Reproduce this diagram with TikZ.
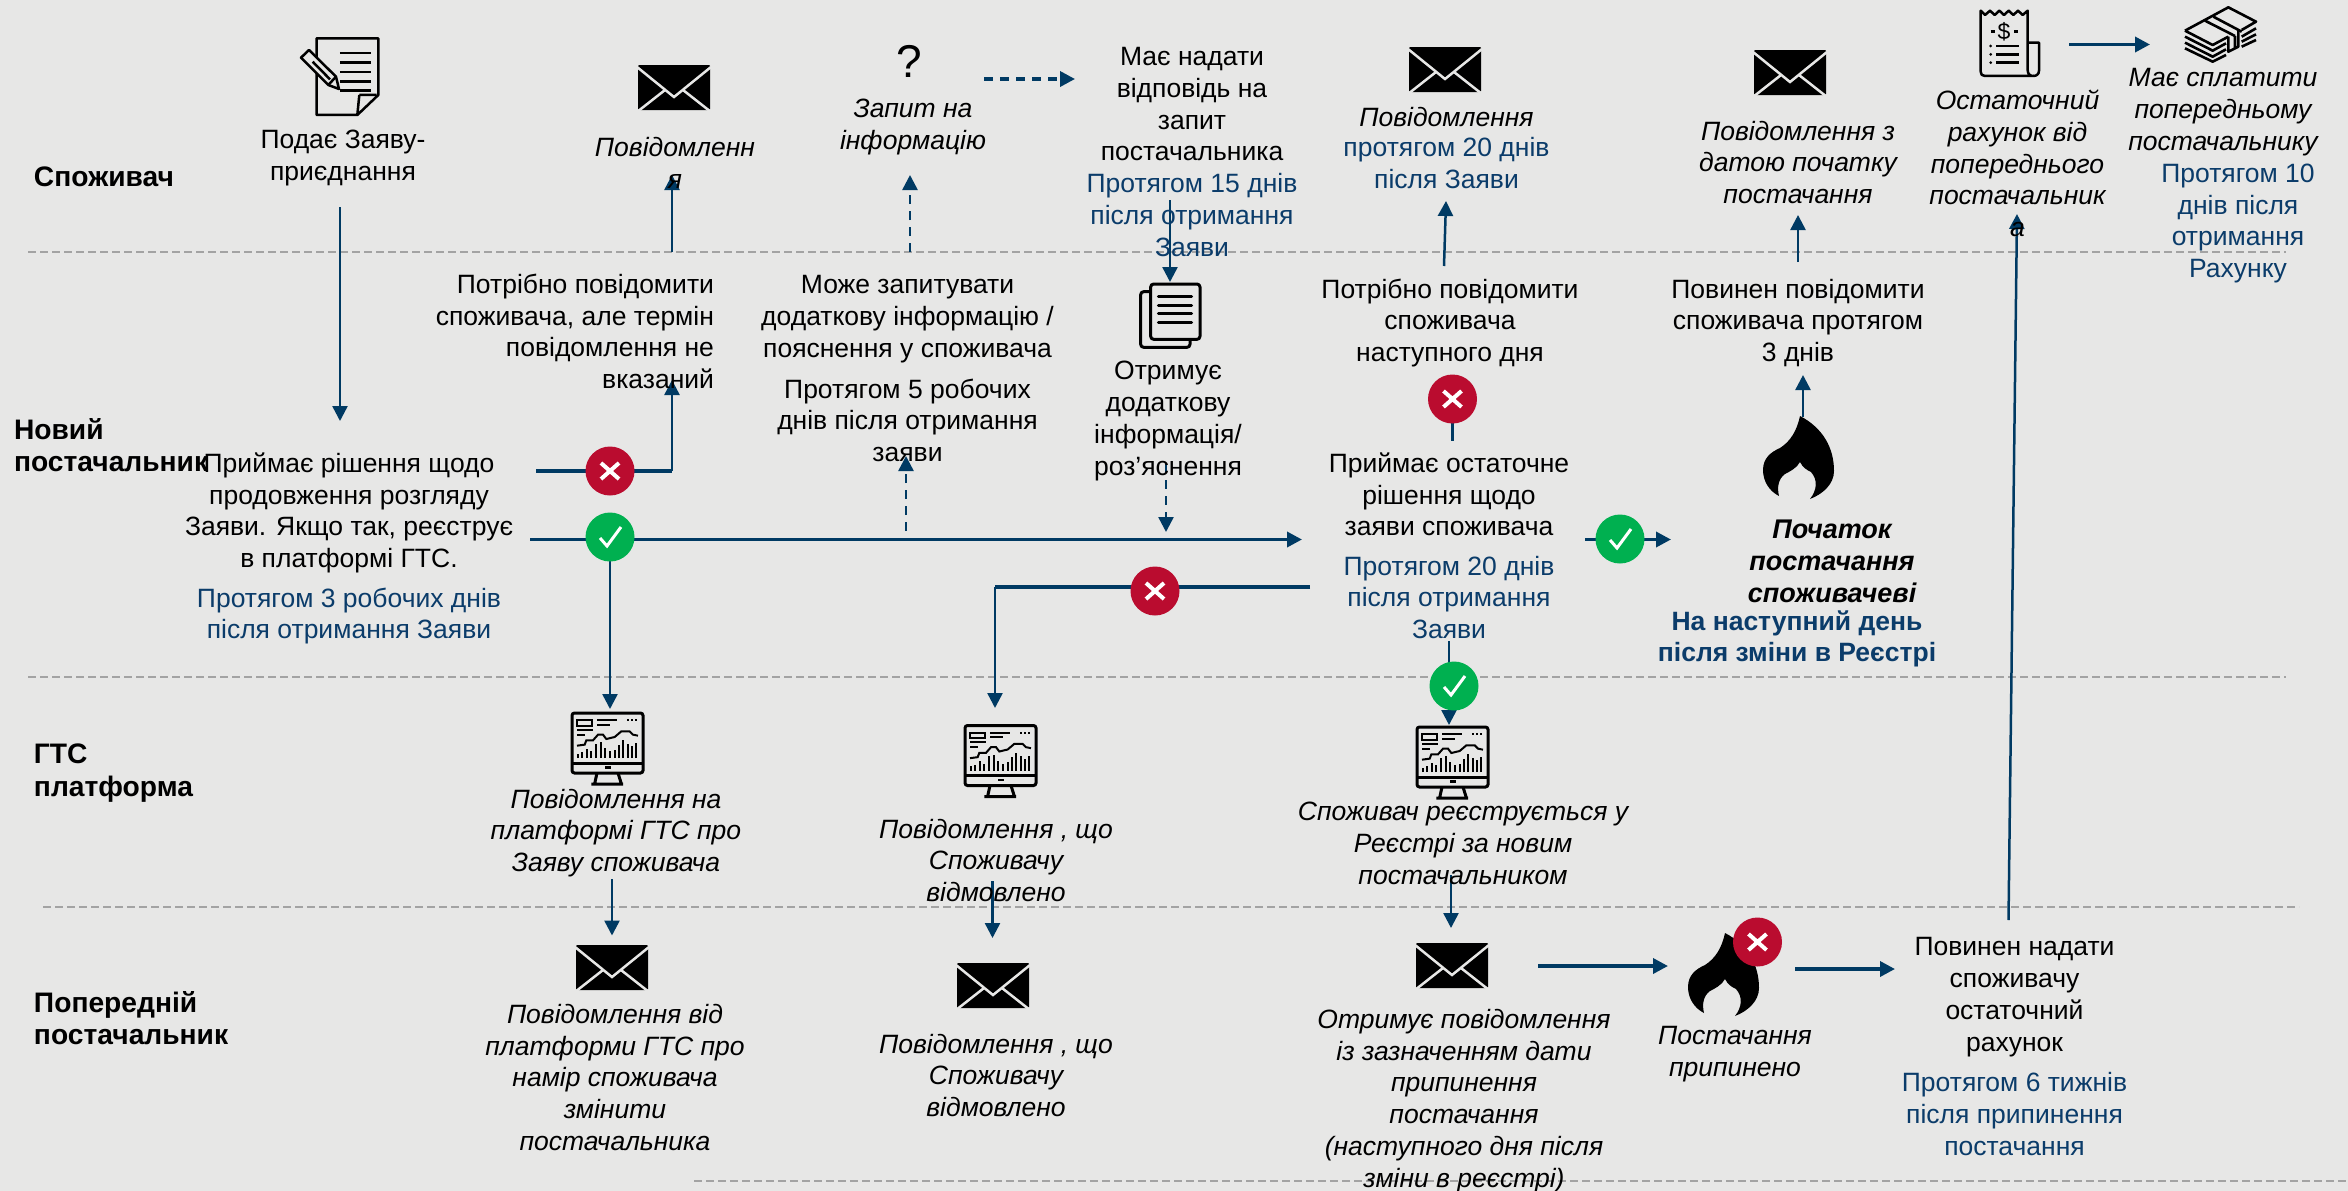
\documentclass[tikz,border=0pt]{standalone}
\usepackage{fontspec}
\setmainfont{Liberation Sans}
\usetikzlibrary{arrows.meta}
\definecolor{bgc}{HTML}{E7E7E6}
\definecolor{navy}{HTML}{003A63}
\definecolor{bluetxt}{HTML}{0B3C6A}
\definecolor{redc}{HTML}{BA0C2F}
\definecolor{greenc}{HTML}{00B050}
\definecolor{sep}{HTML}{A3A3A3}
\tikzset{
  x=1pt,y=-1pt,
  base/.style={inner sep=0pt,outer sep=0pt,yshift=-3pt,font=\fontsize{26.5}{31.8}\selectfont,align=center,
     execute at begin node=\strut,execute at end node=\strut},
  txt/.style={base},
  txti/.style={base,font=\fontsize{26.5}{31.8}\selectfont\itshape},
  txtb/.style={base,text=bluetxt},
  lane/.style={base,font=\fontsize{28.2}{32.5}\selectfont\bfseries,align=left,anchor=west},
  sepline/.style={sep,line width=2pt,dash pattern=on 8pt off 4pt},
  conn/.style={navy,line width=2.5pt,-{Triangle[length=15pt,width=15pt]}},
  conn thick/.style={navy,line width=3.5pt,-{Triangle[length=15pt,width=15pt]}},
  conn dash/.style={conn,dash pattern=on 9pt off 7pt},
  plain/.style={navy,line width=2.5pt},
  plain thick/.style={navy,line width=3.5pt},
  nomark/.style={circle,fill=redc,minimum size=49pt,inner sep=0pt,
    path picture={\draw[white,line width=4pt]
      ([shift={(-9,-8)}]path picture bounding box.center) -- ([shift={(9,8)}]path picture bounding box.center)
      ([shift={(9,-8)}]path picture bounding box.center) -- ([shift={(-9,8)}]path picture bounding box.center);}},
  okmark/.style={circle,fill=greenc,minimum size=49pt,inner sep=0pt,
    path picture={\draw[white,line width=3pt]
      ([shift={(-10,1)}]path picture bounding box.center) -- ([shift={(-3,9)}]path picture bounding box.center)
       -- ([shift={(11,-10)}]path picture bounding box.center);}},
  envelope/.pic={
    \fill[black,rounded corners=1pt] (0,0) -- (72,0) -- (72,45) -- (0,45) -- cycle;
    \draw[bgc,line width=2.5pt] (-1,2) -- (36,32) -- (73,2);
    \draw[bgc,line width=2.5pt] (-1,47) -- (27,25) (73,47) -- (45,25);
  },
  flame/.pic={
    \fill[black] (37,0) .. controls (60,12) and (71,32) .. (71,55) .. controls (71,68) and (60,78) .. (47,83)
     .. controls (54,74) and (55,64) .. (48,56) .. controls (44,54) and (40,52) .. (37,46)
     .. controls (34,52) and (26,56) .. (22,58) .. controls (15,63) and (14,72) .. (16,80)
     .. controls (6,75) and (0,65) .. (0,54) .. controls (0,42) and (8,36) .. (17,32)
     .. controls (28,25) and (34,14) .. (37,0) -- cycle;
  },
  monitor/.pic={
    \begin{scope}[x=.3333pt,y=-.3333pt,shift={(-97,-40)},black,line width=2pt]
    \draw[line width=3pt,rounded corners=2.5pt] (97,40) rectangle (310,220);
    \draw[line width=3pt] (97,190) -- (310,190);
    \fill (195,200) rectangle (213,207);
    \draw[line width=3pt] (172,220) -- (165,252) (235,220) -- (245,252) (155,253) -- (250,253);
    \draw (112,62) rectangle (158,78);
    \draw (172,62) -- (232,62) (172,75) -- (210,75) (112,90) -- (160,90) (112,105) -- (135,105);
    \draw[dotted,line width=2pt] (262,62) -- (292,62);
    \draw (112,138) -- (135,135) -- (140,122) -- (160,122) -- (175,105) -- (190,105) -- (200,118) -- (225,112) -- (245,95) -- (270,95) -- (280,105) -- (295,108);
    \draw[line width=2pt] (115,175) -- (115,162) (128,175) -- (128,157) (141,175) -- (141,147) (155,175) -- (155,155)
      (169,175) -- (169,132) (183,175) -- (183,128) (197,175) -- (197,145) (211,175) -- (211,155)
      (225,175) -- (225,150) (237,175) -- (237,135) (250,175) -- (250,122) (264,175) -- (264,132)
      (277,175) -- (277,140) (290,175) -- (290,130);
    \end{scope}
  },
  requestdoc/.pic={
    \begin{scope}[x=.3333pt,y=-.3333pt,black,line width=2.5pt,line join=round]
    \draw (110,55) -- (295,55) -- (295,225) -- (232,285) -- (110,285) -- cycle;
    \draw (238,225) -- (290,225) (238,225) -- (232,285);
    \draw[line width=2.5pt] (180,99) -- (272,99) (180,128) -- (272,128) (180,156) -- (272,156) (180,184) -- (272,184) (180,212) -- (272,212);
    \filldraw[fill=bgc] (87,90) -- (63,113) -- (145,195) -- (177,207) -- (168,170) -- cycle;
    \draw (98,125) -- (150,178);
    \draw (145,195) -- (168,170);
    \end{scope}
  },
  receipt/.pic={
    \begin{scope}[x=.3333pt,y=-.3333pt,black,line width=2.5pt,line join=round]
    \draw (62,215) -- (62,32) -- (75,45) -- (90,32) -- (104,45) -- (118,32) -- (132,45) -- (146,32) -- (160,45) -- (174,32) -- (188,45) -- (203,32)
      -- (203,210) .. controls (203,222) and (210,228) .. (220,228) -- (75,228) .. controls (66,228) and (62,223) .. (62,215);
    \draw (203,128) -- (237,128) -- (237,212) .. controls (237,222) and (230,228) .. (220,228);
    \node[inner sep=0pt,font=\fontsize{23}{24}\selectfont] (rcptsign) at (132,95) {\$};
    \draw (92,95) -- (104,95) (162,95) -- (175,95);
    \draw (108,138) -- (178,138) (108,163) -- (178,163) (108,188) -- (178,188);
    \fill (92,138) circle (1.5pt) (92,163) circle (1.5pt) (92,188) circle (1.5pt);
    \end{scope}
  },
  money/.pic={
    \begin{scope}[x=.3333pt,y=-.3333pt,black,line width=2.6pt,line join=round]
    \draw (45,92) -- (175,22) -- (258,65) -- (215,90);
    \draw (45,92) -- (128,135) -- (175,110);
    \draw (45,110) -- (128,152) -- (168,130) (45,128) -- (128,170) -- (168,148) (45,145) -- (128,185) -- (168,165);
    \draw (105,62) -- (195,108) (130,50) -- (215,95);
    \draw (175,110) -- (175,155) -- (205,140) -- (205,90) (195,108) -- (195,145);
    \draw (215,110) -- (258,85) (215,125) -- (258,103) (215,140) -- (258,120);
    \end{scope}
  },
  docs/.pic={
    \begin{scope}[x=.3333pt,y=-.3333pt,black,line width=3pt,line join=round]
    \draw[rounded corners=3pt] (92,65) -- (62,65) -- (62,232) -- (210,232) -- (210,208);
    \draw[rounded corners=3pt] (92,42) rectangle (240,208);
    \draw[line width=3pt,line cap=round] (115,80) -- (215,80) (115,106) -- (215,106) (115,132) -- (215,132) (115,158) -- (215,158);
    \end{scope}
  },
}
\begin{document}
\begin{tikzpicture}
\useasboundingbox (0,0) rectangle (2348,1191);
\fill[bgc] (0,0) rectangle (2348,1191);

% lane separators
\coordinate (s1a) at (28,252);   \coordinate (s1b) at (2286,252);
\coordinate (s2a) at (28,677);   \coordinate (s2b) at (2286,677);
\coordinate (s3a) at (43,907);   \coordinate (s3b) at (2299,907);
\coordinate (s4a) at (694,1181); \coordinate (s4b) at (2348,1181);
\draw[sepline] (s1a) -- (s1b);
\draw[sepline] (s2a) -- (s2b);
\draw[sepline] (s3a) -- (s3b);
\draw[sepline] (s4a) -- (s4b);

% connector end points
\coordinate (a1s) at (340,207);  \coordinate (a1e) at (340,421);
\coordinate (a2s) at (536,471);  \coordinate (a2m) at (672,471);  \coordinate (a2e) at (672,380);
\coordinate (a3s) at (672,252);  \coordinate (a3e) at (672,175);
\coordinate (a4s) at (910,252);  \coordinate (a4e) at (910,175);
\coordinate (a5s) at (906,531);  \coordinate (a5e) at (906,456);
\coordinate (a6s) at (530,539.5);\coordinate (a6e) at (1302,539.5);
\coordinate (a7s) at (610,539.5);\coordinate (a7e) at (610,709);
\coordinate (a8s) at (1310,587); \coordinate (a8m) at (995,587);  \coordinate (a8e) at (995,708);
\coordinate (a9s) at (1166,464); \coordinate (a9e) at (1166,532);
\coordinate (a10s) at (1170,200);\coordinate (a10e) at (1170,282);
\coordinate (a11s) at (984,79);  \coordinate (a11e) at (1075,79);
\coordinate (a12s) at (1444,266);\coordinate (a12e) at (1446,201);
\coordinate (a13s) at (1798,262);\coordinate (a13e) at (1798,215);
\coordinate (a14s) at (2008.5,920);\coordinate (a14e) at (2017,214);
\coordinate (a15s) at (2069,44.5);\coordinate (a15e) at (2150,44.5);
\coordinate (a16s) at (1803,417);\coordinate (a16e) at (1803,375);
\coordinate (a17s) at (1452.5,399);\coordinate (a17e) at (1452.5,441);
\coordinate (a18s) at (1585,539.5);\coordinate (a18e) at (1671,539.5);
\coordinate (a19s) at (1449,641);\coordinate (a19e) at (1449,725);
\coordinate (a20s) at (1451,875);\coordinate (a20e) at (1451,928);
\coordinate (a21s) at (1538,966);\coordinate (a21e) at (1668,966);
\coordinate (a22s) at (1795,969);\coordinate (a22e) at (1895,969);
\coordinate (a23s) at (612,879); \coordinate (a23e) at (612,935.5);
\coordinate (a24s) at (992.5,881);\coordinate (a24e) at (992.5,938);

% connectors
\draw[conn] (a1s) -- (a1e);
\draw[plain thick] (a2s) -- (a2m);
\draw[conn] (a2m) -- (a2e);
\draw[conn] (a3s) -- (a3e);
\draw[conn dash] (a4s) -- (a4e);
\draw[conn dash] (a5s) -- (a5e);
\draw[conn thick] (a6s) -- (a6e);
\draw[conn] (a7s) -- (a7e);
\draw[plain thick] (a8s) -- (a8m);
\draw[conn] (a8m) -- (a8e);
\draw[conn dash] (a9s) -- (a9e);
\draw[conn] (a10s) -- (a10e);
\draw[conn thick,dash pattern=on 9pt off 7pt] (a11s) -- (a11e);
\draw[conn] (a12s) -- (a12e);
\draw[conn] (a13s) -- (a13e);
\draw[conn] (a14s) -- (a14e);
\draw[conn thick] (a15s) -- (a15e);
\draw[conn] (a16s) -- (a16e);
\draw[plain] (a17s) -- (a17e);
\draw[conn thick] (a18s) -- (a18e);
\draw[conn] (a19s) -- (a19e);
\draw[conn] (a20s) -- (a20e);
\draw[conn thick] (a21s) -- (a21e);
\draw[conn thick] (a22s) -- (a22e);
\draw[conn] (a23s) -- (a23e);
\draw[conn] (a24s) -- (a24e);

% icons
\pic at (280,20) {requestdoc};
\pic at (638,65) {envelope};
\pic at (1409,47) {envelope};
\pic at (1754,50) {envelope};
\pic at (576,945) {envelope};
\pic at (957,963) {envelope};
\pic at (1416,943) {envelope};
\pic at (572,713) {monitor};
\pic at (965,725.5) {monitor};
\pic at (1417,727) {monitor};
\pic at (1763,416) {flame};
\pic at (1688,933) {flame};
\pic at (1960,0) {receipt};
\pic at (2170,0) {money};
\pic at (1120,270) {docs};

% status marks
\node[nomark] (noA) at (610,471) {};
\node[okmark] (okA) at (610,537) {};
\node[nomark] (noB) at (1155,591) {};
\node[nomark] (noC) at (1452.5,399) {};
\node[okmark] (okB) at (1620,539) {};
\node[okmark] (okC) at (1454,686) {};
\node[nomark] (noD) at (1757.5,942) {};

% lanes
\node[lane] (l1) at (34,177) {Споживач};
\node[lane] (l2) at (14,447) {Новий\\постачальник};
\node[lane] (l3) at (34,772) {ГТС\\платформа};
\node[lane] (l4) at (34,1020) {Попередній\\постачальник};

% texts
\node[txt] (t1) at (343,157) {Подає Заяву-\\приєднання};
\node[txti] (t2) at (675,165) {Повідомленн\\я};
\node[txti] (t3) at (913,126) {Запит на\\інформацію};
\node[txt] (t4) at (1192,153.5) {Має надати\\відповідь на\\запит\\постачальника\\\color{bluetxt}Протягом 15 днів\\\color{bluetxt}після отримання\\\color{bluetxt}Заяви};
\node[txti] (t5a) at (1446.5,117) {Повідомлення};
\node[txtb] (t5b) at (1446.5,164.5) {протягом 20 днів\\після Заяви};
\node[txti] (t6) at (1798,164) {Повідомлення з\\датою початку\\постачання};
\node[txti] (t7) at (2017.5,165) {Остаточний\\рахунок від\\попереднього\\постачальник\\а};
\node[txti] (t8) at (2223,111) {Має сплатити\\попередньому\\постачальнику};
\node[txtb] (t8b) at (2238,222.5) {Протягом 10\\днів після\\отримання\\Рахунку};
\node[txt,anchor=east,align=right] (t9) at (714,333) {Потрібно повідомити\\споживача, але термін\\повідомлення не\\вказаний};
\node[txt] (t10) at (907.5,318) {Може запитувати\\додаткову інформацію /\\пояснення у споживача};
\node[txt] (t10b) at (907.5,422) {Протягом 5 робочих\\днів після отримання\\заяви};
\node[txt] (t11) at (1168,420) {Отримує\\додаткову\\інформація/\\роз’яснення};
\node[txt] (t12) at (349,512) {Приймає рішення щодо\\продовження розгляду\\Заяви. Якщо так, реєструє\\в платформі ГТС.};
\node[txtb] (t12b) at (349,615) {Протягом 3 робочих днів\\після отримання Заяви};
\node[txt] (t13) at (1450,322) {Потрібно повідомити\\споживача\\наступного дня};
\node[txt] (t14) at (1798,322) {Повинен повідомити\\споживача протягом\\3 днів};
\node[txt] (t15) at (1449,496) {Приймає остаточне\\рішення щодо\\заяви споживача};
\node[txtb] (t15b) at (1449,599) {Протягом 20 днів\\після отримання\\Заяви};
\node[txti,font=\fontsize{27}{31.8}\selectfont\bfseries\itshape] (t16) at (1832,563) {Початок\\постачання\\споживачеві};
\node[txtb,font=\fontsize{26.5}{31.8}\selectfont\bfseries] (t16b) at (1797,638) {На наступний день\\після зміни в Реєстрі};
\node[txti] (t17) at (616,832) {Повідомлення на\\платформі ГТС про\\Заяву споживача};
\node[txti] (t18) at (996,862) {Повідомлення , що\\Споживачу\\відмовлено};
\node[txti] (t19) at (996,1077) {Повідомлення , що\\Споживачу\\відмовлено};
\node[txti] (t20) at (615,1079) {Повідомлення від\\платформи ГТС про\\намір споживача\\змінити\\постачальника};
\node[txti] (t21) at (1463,845) {Споживач реєструється у\\Реєстрі за новим\\постачальником};
\node[txti] (t22) at (1464,1100) {Отримує повідомлення\\із зазначенням дати\\припинення\\постачання\\(наступного дня після\\зміни в реєстрі)};
\node[txti] (t23) at (1735,1053) {Постачання\\припинено};
\node[txt] (t24) at (2014.5,996) {Повинен надати\\споживачу\\остаточний\\рахунок};
\node[txtb] (t24b) at (2014.5,1115.5) {Протягом 6 тижнів\\після припинення\\постачання};
\node[base,font=\fontsize{46}{50}\selectfont] (q) at (909,64) {?};
\end{tikzpicture}
\end{document}
